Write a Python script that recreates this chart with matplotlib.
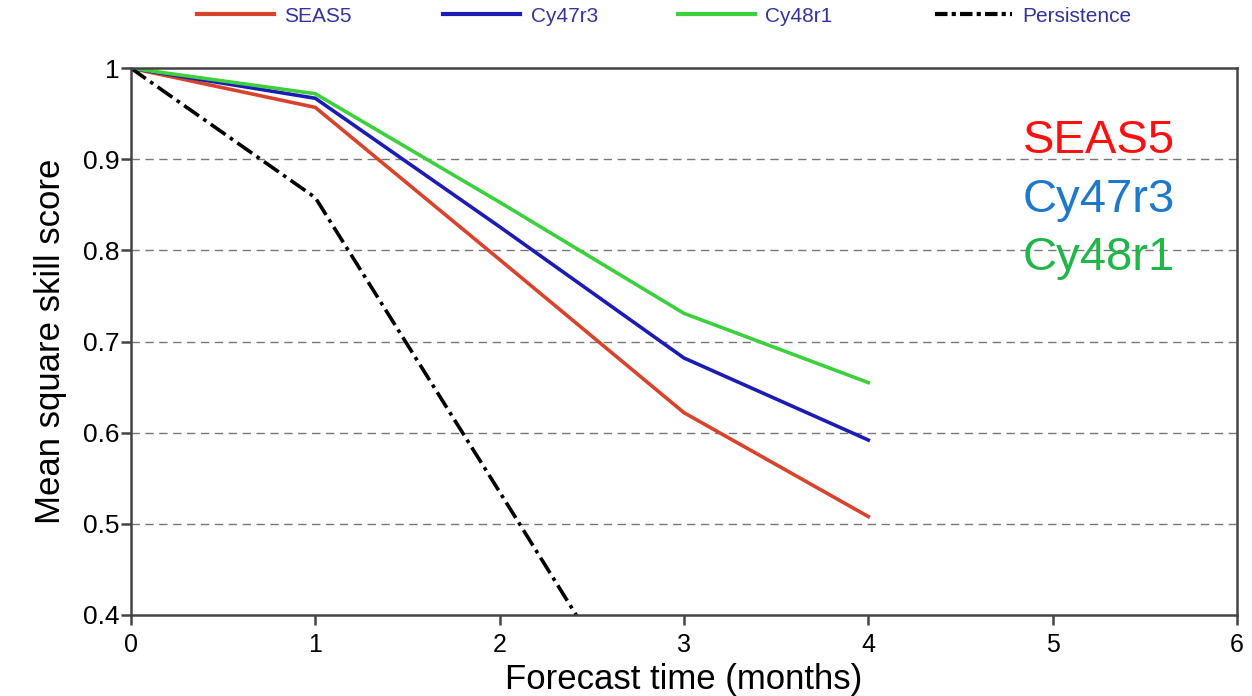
import matplotlib
matplotlib.use('Agg')
import matplotlib.pyplot as plt
from matplotlib.lines import Line2D

# forecast months and mean square skill score per system
months = [0, 1, 2, 3, 4]
seas5 = [1.0, 0.957, 0.790, 0.622, 0.508]
cy47r3 = [1.0, 0.967, 0.826, 0.682, 0.592]
cy48r1 = [1.0, 0.972, 0.853, 0.731, 0.655]
persist_months = [0, 1, 2, 3]
persistence = [1.0, 0.858, 0.535, 0.21]

names = ['SEAS5', 'Cy47r3', 'Cy48r1', 'Persistence']
line_cols = ['#d8432b', '#1c1cb4', '#3dd03d', 'black']
label_cols = ['#ff1010', '#1f78c8', '#22b54a']

plt.rcParams['font.family'] = ['Liberation Sans', 'DejaVu Sans']

fig = plt.figure(figsize=(12.52, 6.96), dpi=100)
ax = fig.add_axes([0.1046, 0.1164, 0.8834, 0.7856])

ax.plot(months, seas5, color=line_cols[0], lw=2.6)
ax.plot(months, cy47r3, color=line_cols[1], lw=2.6)
ax.plot(months, cy48r1, color=line_cols[2], lw=2.6)
ax.plot(persist_months, persistence, color=line_cols[3], lw=2.6, ls=(0, (5, 1.5, 1, 1.5)))

ax.set_xlim(0, 6)
ax.set_ylim(0.4, 1.0)
ax.set_xticks(range(7))
ax.set_yticks([0.4, 0.5, 0.6, 0.7, 0.8, 0.9, 1.0])
ax.set_yticklabels(['0.4', '0.5', '0.6', '0.7', '0.8', '0.9', '1'])
for y in [0.5, 0.6, 0.7, 0.8, 0.9]:
    ax.axhline(y, color='#777777', lw=1.0, ls=(0, (6, 4)), zorder=0)

for s in ax.spines.values():
    s.set_color('#444444')
    s.set_linewidth(1.8)
ax.tick_params(direction='out', length=7, width=1.8, color='#444444')
ax.tick_params(axis='y', labelsize=19, pad=1)
ax.tick_params(axis='x', labelsize=18, pad=6)

ax.set_ylabel('Mean square skill score', fontsize=25, labelpad=12)
ax.set_xlabel('Forecast time (months)', fontsize=25, labelpad=4)

# legend strip along the top, one entry at a time
handles = [Line2D([], [], color=c, lw=3) for c in line_cols[:3]]
handles.append(Line2D([], [], color='black', lw=3, ls=(0, (3, 1, 1, 1))))
leg_x = [197, 443, 678, 935]
for h, n, x in zip(handles, names, leg_x):
    leg = fig.legend([h], [n], loc='center left', bbox_to_anchor=(x / 1252, 1 - 16 / 696),
                     frameon=False, fontsize=15, handlelength=3.7, handletextpad=0.5,
                     borderpad=0, borderaxespad=0)
    leg.get_texts()[0].set_color('#33339a')

for i, (n, c) in enumerate(zip(names[:3], label_cols)):
    ax.text(0.806, 0.866 - i * 0.107, n, color=c, fontsize=34,
            transform=ax.transAxes, va='center', ha='left')

fig.savefig('out.png', dpi=100)
